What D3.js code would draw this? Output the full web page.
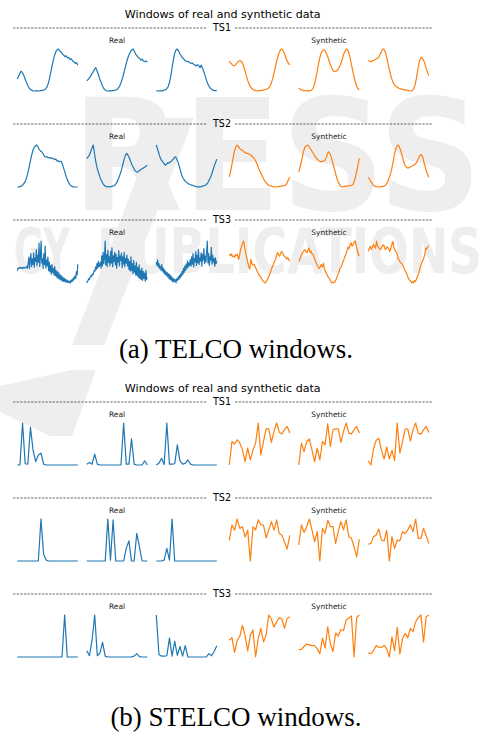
<!DOCTYPE html>
<html>
<head>
<meta charset="utf-8">
<script src="https://cdn.jsdelivr.net/npm/d3@7"></script>
<style>
  html, body { margin: 0; padding: 0; background: #fff; }
  svg { display: block; }
</style>
</head>
<body>
<div id="chart"></div>
<script>
// series labels
const rowLabels = ["TS1", "TS2", "TS3"]
const panelTitle = "Windows of real and synthetic data"
const captions = ["(a) TELCO windows.", "(b) STELCO windows."]

// TELCO, three windows per row
const telcoTS1Real = [
  [0.29,0.36,0.42,0.48,0.44,0.38,0.30,0.22,0.15,0.09,0.05,0.03,0.02,0.01,0.01,0.02,0.01,0.01,0.02,0.02,0.03,0.04,0.06,0.10,0.18,0.30,0.45,0.60,0.74,0.86,0.94,0.98,1.00,0.95,0.93,0.88,0.86,0.82,0.84,0.79,0.80,0.75,0.77,0.72,0.70,0.66,0.68,0.62],
  [0.25,0.28,0.32,0.36,0.42,0.46,0.52,0.56,0.48,0.40,0.30,0.22,0.14,0.08,0.04,0.02,0.01,0.01,0.02,0.01,0.02,0.02,0.03,0.04,0.06,0.10,0.16,0.24,0.34,0.46,0.58,0.70,0.80,0.88,0.94,0.98,1.00,0.94,0.88,0.84,0.80,0.78,0.74,0.76,0.72,0.70,0.72,0.69],
  [0.02,0.01,0.01,0.02,0.01,0.02,0.03,0.04,0.06,0.10,0.18,0.32,0.50,0.70,0.86,0.96,1.00,0.97,0.90,0.86,0.80,0.78,0.74,0.72,0.70,0.71,0.68,0.66,0.67,0.64,0.62,0.60,0.63,0.60,0.56,0.62,0.54,0.46,0.36,0.26,0.18,0.12,0.08,0.05,0.03,0.02,0.02,0.02]
]
const telcoTS1Synth = [
  [0.71,0.66,0.62,0.60,0.62,0.67,0.71,0.72,0.70,0.62,0.50,0.36,0.24,0.14,0.08,0.04,0.02,0.01,0.00,0.01,0.01,0.02,0.02,0.03,0.04,0.06,0.10,0.18,0.30,0.46,0.62,0.78,0.90,0.98,1.00,0.94,0.84,0.74,0.66,0.62],
  [0.07,0.04,0.02,0.01,0.01,0.00,0.01,0.00,0.02,0.05,0.14,0.30,0.50,0.70,0.86,0.95,0.98,0.96,0.88,0.78,0.66,0.56,0.49,0.46,0.47,0.50,0.56,0.64,0.76,0.88,0.97,1.00,0.94,0.80,0.62,0.44,0.28,0.14,0.06,0.02],
  [0.73,0.71,0.70,0.72,0.74,0.76,0.78,0.82,0.90,0.98,1.00,0.92,0.78,0.60,0.44,0.30,0.20,0.14,0.10,0.08,0.06,0.05,0.04,0.03,0.02,0.02,0.01,0.00,0.00,0.04,0.12,0.30,0.52,0.72,0.80,0.78,0.70,0.58,0.46,0.37]
]
const telcoTS2Real = [
  [0.02,0.02,0.03,0.04,0.06,0.10,0.14,0.22,0.32,0.46,0.60,0.74,0.86,0.94,0.97,1.00,0.96,0.90,0.86,0.84,0.80,0.74,0.72,0.73,0.70,0.71,0.69,0.70,0.68,0.66,0.67,0.62,0.63,0.61,0.62,0.56,0.46,0.36,0.26,0.18,0.12,0.07,0.04,0.03,0.02,0.02,0.02,0.02],
  [0.68,0.72,0.76,0.84,0.92,1.00,0.80,0.60,0.46,0.36,0.26,0.18,0.12,0.07,0.04,0.02,0.02,0.01,0.02,0.02,0.03,0.04,0.06,0.10,0.16,0.24,0.32,0.42,0.54,0.66,0.76,0.80,0.76,0.70,0.62,0.54,0.48,0.42,0.38,0.36,0.37,0.40,0.42,0.44,0.46,0.48,0.50,0.52],
  [1.00,0.90,0.80,0.70,0.64,0.60,0.56,0.52,0.54,0.58,0.57,0.60,0.62,0.66,0.70,0.72,0.66,0.58,0.48,0.36,0.26,0.20,0.16,0.12,0.10,0.08,0.06,0.05,0.04,0.03,0.02,0.01,0.00,0.01,0.00,0.01,0.02,0.03,0.04,0.06,0.10,0.16,0.22,0.30,0.40,0.50,0.58,0.66]
]
const telcoTS2Synth = [
  [0.24,0.40,0.60,0.80,0.94,1.00,0.96,0.90,0.88,0.86,0.82,0.80,0.80,0.78,0.76,0.72,0.68,0.62,0.54,0.44,0.36,0.28,0.20,0.14,0.09,0.05,0.03,0.02,0.01,0.00,0.00,0.01,0.01,0.02,0.02,0.03,0.04,0.08,0.16,0.24],
  [0.36,0.50,0.66,0.84,0.96,0.98,1.00,0.94,0.88,0.82,0.76,0.70,0.66,0.62,0.60,0.61,0.62,0.64,0.74,0.84,0.80,0.70,0.56,0.42,0.28,0.16,0.08,0.02,0.00,0.01,0.02,0.02,0.03,0.03,0.04,0.06,0.16,0.32,0.50,0.68],
  [0.24,0.18,0.12,0.06,0.03,0.02,0.01,0.01,0.02,0.02,0.03,0.05,0.10,0.18,0.28,0.42,0.60,0.80,0.94,1.00,0.96,0.86,0.72,0.58,0.50,0.46,0.46,0.48,0.50,0.52,0.54,0.58,0.66,0.74,0.78,0.72,0.58,0.44,0.32,0.24]
]
const telcoTS3Real = [
  [0.30,0.36,0.35,0.37,0.36,0.38,0.36,0.37,0.35,0.38,0.37,0.36,0.38,0.37,0.40,0.36,
   0.48,0.62,0.35,0.55,0.70,0.40,0.58,0.45,0.72,0.38,0.60,0.52,0.80,0.42,0.66,0.50,0.95,0.40,0.62,1.00,0.48,0.58,0.35,0.70,0.44,0.88,0.36,0.55,0.42,0.62,
   0.30,0.50,0.28,0.42,0.22,0.45,0.26,0.35,0.20,0.40,0.18,0.30,0.15,0.28,0.12,0.25,0.10,0.20,0.08,0.18,0.06,0.15,0.05,0.12,0.04,0.10,0.03,0.08,0.02,0.06,
   0.02,0.05,0.01,0.08,0.04,0.10,0.06,0.14,0.10,0.18,0.12,0.28,0.20,0.45],
  [0.02,0.06,0.08,0.12,0.10,0.15,0.18,0.16,0.22,0.20,0.25,
   0.30,0.28,0.38,0.32,0.45,0.35,0.50,0.38,0.42,0.48,
   0.35,0.62,0.40,0.70,0.45,0.58,0.95,0.42,0.65,0.38,0.75,0.48,0.60,0.40,0.72,0.46,0.80,0.38,0.62,0.50,0.70,0.42,0.66,0.35,0.58,0.48,0.74,0.40,0.62,0.52,0.68,0.36,0.60,0.44,0.70,0.38,0.56,0.46,0.64,0.40,
   0.55,0.32,0.50,0.28,0.60,0.30,0.45,0.22,0.52,0.26,0.40,0.20,0.48,0.18,0.36,0.15,0.42,0.12,0.30,0.10,0.35,0.08,0.28,0.12,0.24,0.06,0.30,0.10,0.14],
  [0.50,0.42,0.55,0.38,0.46,0.35,0.40,0.30,0.44,0.28,0.36,0.24,0.32,0.20,0.28,0.18,
   0.25,0.14,0.22,0.10,0.20,0.08,0.16,0.05,0.12,0.02,0.10,0.04,0.08,0.00,0.10,0.06,0.14,0.08,0.18,0.12,
   0.22,0.16,0.28,0.20,0.35,0.25,0.40,0.30,0.45,0.35,0.52,0.38,0.48,0.42,0.56,
   0.40,0.62,0.45,0.70,0.38,0.58,0.50,0.75,0.42,0.66,0.48,0.80,0.44,0.60,0.52,0.72,0.40,0.68,0.55,0.82,0.46,0.64,0.50,0.76,1.00,0.48,0.70,0.42,0.62,0.55,0.85,0.45,0.66,0.50,0.58,0.40,0.60,0.46,0.52]
]
const telcoTS3Synth = [
  [0.69,0.66,0.70,0.64,0.65,0.62,0.68,0.66,0.69,0.57,0.66,0.80,0.88,0.96,1.00,0.86,0.72,0.60,0.50,0.40,0.34,0.57,0.48,0.44,0.46,0.41,0.36,0.30,0.26,0.20,0.18,0.14,0.10,0.07,0.04,0.02,0.05,0.09,0.14,0.20,0.26,0.34,0.40,0.46,0.52,0.57,0.66,0.73,0.68,0.65,0.70,0.76,0.73,0.66,0.64,0.61,0.58,0.62,0.56,0.53],
  [0.53,0.58,0.65,0.70,0.74,0.78,0.80,0.76,0.73,0.80,0.84,0.74,0.77,0.70,0.69,0.62,0.56,0.49,0.44,0.40,0.37,0.42,0.46,0.40,0.49,0.36,0.30,0.26,0.20,0.16,0.14,0.08,0.04,0.06,0.05,0.06,0.10,0.16,0.22,0.28,0.36,0.40,0.45,0.52,0.58,0.65,0.70,0.78,0.86,0.82,0.92,0.96,0.88,0.92,0.98,1.00,0.90,0.80,0.70,0.65],
  [0.73,0.80,0.84,0.77,0.82,0.88,0.84,0.80,0.96,0.86,0.82,0.79,0.77,0.83,0.86,0.88,0.80,0.77,0.83,0.82,0.78,0.73,0.80,0.88,0.95,0.80,0.76,0.72,0.69,0.57,0.54,0.50,0.47,0.45,0.40,0.34,0.30,0.26,0.20,0.14,0.10,0.08,0.04,0.06,0.03,0.08,0.06,0.12,0.18,0.22,0.32,0.41,0.46,0.52,0.57,0.66,0.80,0.78,0.84,0.84]
]

// STELCO, three windows per row
const stelcoTS1Real = [
  [0,0,1.0,0.03,0.02,0.9,0.35,0.08,0.24,0.28,0.02,0,0,0,0,0,0,0,0,0,0,0,0,0],
  [0.02,0.06,0.02,0.26,0.02,0,0,0,0,0,0,0,0,0,1.0,0.02,0.02,0.62,0.02,0,0,0,0.1,0],
  [0,0.04,0.16,0.01,1.0,0.02,0.02,0.03,0.48,0.1,0.02,0.04,0.12,0.02,0,0,0,0,0,0,0,0,0,0]
]
const stelcoTS1Synth = [
  [0.0,0.56,0.5,0.6,0.52,0.36,0.08,0.4,0.12,0.36,0.52,1.0,0.24,0.56,0.86,0.86,0.54,0.8,1.0,0.78,0.74,0.84,0.92,0.76],
  [0.0,0.52,0.32,0.56,0.62,0.36,0.08,0.4,0.12,0.56,0.48,0.98,0.44,0.84,0.86,0.86,0.54,0.8,1.0,0.76,0.74,0.84,0.92,0.76],
  [0.12,0.02,0.4,0.6,0.64,0.36,0.16,0.44,0.16,0.36,0.12,1.0,0.3,0.56,0.86,0.86,0.58,0.84,1.0,0.76,0.74,0.84,0.92,0.78]
]
const stelcoTS2Real = [
  [0,0,0,0,0,0,0,0,0,1.0,0.16,0.02,0,0,0,0,0,0,0,0,0,0,0,0],
  [0,0,0,0,0,0,0,0,1.0,0.02,0.98,0,0,0,0,0.3,0.48,0,0,0.66,0.34,0,0,0],
  [0,0,0,0.02,0.3,0.02,1.0,0,0,0,0,0,0,0,0,0,0,0,0,0,0,0,0,0]
]
const stelcoTS2Synth = [
  [0.5,0.86,0.74,1.0,0.78,0.82,0.58,0.74,0.02,0.82,0.74,0.98,0.86,0.86,0.56,0.74,0.94,0.74,0.98,0.66,0.62,0.46,0.3,0.62],
  [0.38,0.86,0.68,0.82,1.0,0.74,0.46,0.7,0.0,0.78,0.66,0.97,0.82,0.82,0.42,0.7,0.94,0.74,0.98,0.58,0.54,0.34,0.1,0.52],
  [0.4,0.42,0.58,0.62,0.76,0.5,0.48,0.73,0.0,0.58,0.3,0.5,0.48,0.7,0.65,0.74,0.86,0.7,1.0,0.54,0.54,0.78,0.6,0.42]
]
const stelcoTS3Real = [
  [0,0,0,0,0,0,0,0,0,0,0,0,0,0,0,0,0,0,1.0,0,0,0,0,0],
  [0.15,0.03,0.4,1.0,0.03,0.1,0.35,0.02,0,0,0,0,0,0,0,0,0,0,0.02,0.08,0.01,0,0,0],
  [1.0,0.06,0.02,0.02,0.03,0.45,0.02,0.37,0.04,0.25,0.02,0.27,0,0,0,0,0,0,0,0,0.08,0.03,0.13,0.27]
]
const stelcoTS3Synth = [
  [0.41,0.47,0.13,0.41,0.5,0.76,0.53,0.16,0.53,0.65,0.02,0.45,0.69,0.37,0.53,1.0,0.9,0.72,0.84,0.94,0.9,0.69,0.92,0.96],
  [0.17,0.18,0.25,0.31,0.29,0.27,0.27,0.2,0.08,0.45,0.21,0.72,0.31,0.13,0.57,0.5,0.65,0.63,0.88,0.92,0.98,0.0,0.94,1.0],
  [0.11,0.1,0.17,0.29,0.25,0.24,0.29,0.21,0.02,0.49,0.17,0.71,0.09,0.45,0.57,0.47,0.69,0.61,0.84,0.94,1.0,0.37,0.96,1.0]
]

const panels = [
  { top: 0,   captionY: 358, caption: captions[0], rows: [[telcoTS1Real, telcoTS1Synth], [telcoTS2Real, telcoTS2Synth], [telcoTS3Real, telcoTS3Synth]] },
  { top: 374, captionY: 352, caption: captions[1], rows: [[stelcoTS1Real, stelcoTS1Synth], [stelcoTS2Real, stelcoTS2Synth], [stelcoTS3Real, stelcoTS3Synth]] }
]

const width = 486, height = 738
const REAL = "#1f77b4", SYNTH = "#ff7f0e"
const font = "DejaVu Sans, Verdana, sans-serif"

const svg = d3.select("#chart").append("svg")
    .attr("width", width)
    .attr("height", height)
    .attr("viewBox", [0, 0, width, height])

svg.append("rect").attr("width", width).attr("height", height).attr("fill", "#fff")

// faint publisher watermark behind the figure
const wm = svg.append("g").attr("fill", "#eeeeee")
    .attr("font-family", font).attr("font-weight", "bold")
wm.append("path").attr("d", "M160,118 L194,118 L104,345 L72,345 Z")
wm.append("path").attr("d", "M0,386 L72,370 L96,370 L72,436 L50,436 L0,412 Z")
wm.append("text").attr("x", 72).attr("y", 210).attr("font-size", 155)
    .attr("textLength", 410).attr("lengthAdjust", "spacingAndGlyphs").text("RESS")
wm.append("text").attr("x", 14).attr("y", 273).attr("font-size", 62)
    .attr("textLength", 56).attr("lengthAdjust", "spacingAndGlyphs").text("GY")
wm.append("text").attr("x", 97).attr("y", 273).attr("font-size", 62)
    .attr("textLength", 385).attr("lengthAdjust", "spacingAndGlyphs").text("PUBLICATIONS")

// layout of the subplot grid
const figLeft = 13, figRight = 432.5
const figCenter = (figLeft + figRight) / 2
const rowStep = 96, firstRule = 28
const winW = 60.5, winStep = 69.5
const groupLeft = [17.3, 229.3]

panels.forEach(panel => {
    const g = svg.append("g").attr("transform", `translate(0,${panel.top})`)

    g.append("text")
        .attr("x", figCenter).attr("y", 18)
        .attr("text-anchor", "middle")
        .attr("font-family", font).attr("font-size", 11.1)
        .attr("fill", "#000")
        .text(panelTitle)

    panel.rows.forEach((pair, r) => {
        const ry = firstRule + r * rowStep

        // dashed rule with the series name in the middle
        const rule = g.append("g")
            .attr("stroke", "#444").attr("stroke-width", 0.8)
            .attr("stroke-dasharray", "2.4,1.2")
        rule.append("line").attr("x1", figLeft).attr("x2", 207).attr("y1", ry).attr("y2", ry)
        rule.append("line").attr("x1", 235).attr("x2", figRight).attr("y1", ry).attr("y2", ry)
        g.append("text")
            .attr("x", 222).attr("y", ry + 3.4)
            .attr("text-anchor", "middle")
            .attr("font-family", font).attr("font-size", 9.6)
            .text(rowLabels[r])

        ;["Real", "Synthetic"].forEach((name, k) => {
            g.append("text")
                .attr("x", groupLeft[k] + winStep + winW / 2)
                .attr("y", ry + 14.5)
                .attr("text-anchor", "middle")
                .attr("font-family", font).attr("font-size", 7.5)
                .attr("fill", "#222")
                .text(name)

            pair[k].forEach((values, w) => {
                const x0 = groupLeft[k] + w * winStep
                const x = d3.scaleLinear().domain([0, values.length - 1]).range([x0, x0 + winW])
                const y = d3.scaleLinear().domain(d3.extent(values)).range([ry + 63, ry + 21])
                const line = d3.line().x((d, i) => x(i)).y(d => y(d))
                g.append("path")
                    .datum(values)
                    .attr("fill", "none")
                    .attr("stroke", k === 0 ? REAL : SYNTH)
                    .attr("stroke-width", 1.2)
                    .attr("stroke-linejoin", "round")
                    .attr("d", line)
            })
        })
    })

    g.append("text")
        .attr("x", 236).attr("y", panel.captionY)
        .attr("text-anchor", "middle")
        .attr("font-family", "Liberation Serif, Times New Roman, serif")
        .attr("font-size", 27)
        .attr("fill", "#000")
        .text(panel.caption)
})
</script>
</body>
</html>
